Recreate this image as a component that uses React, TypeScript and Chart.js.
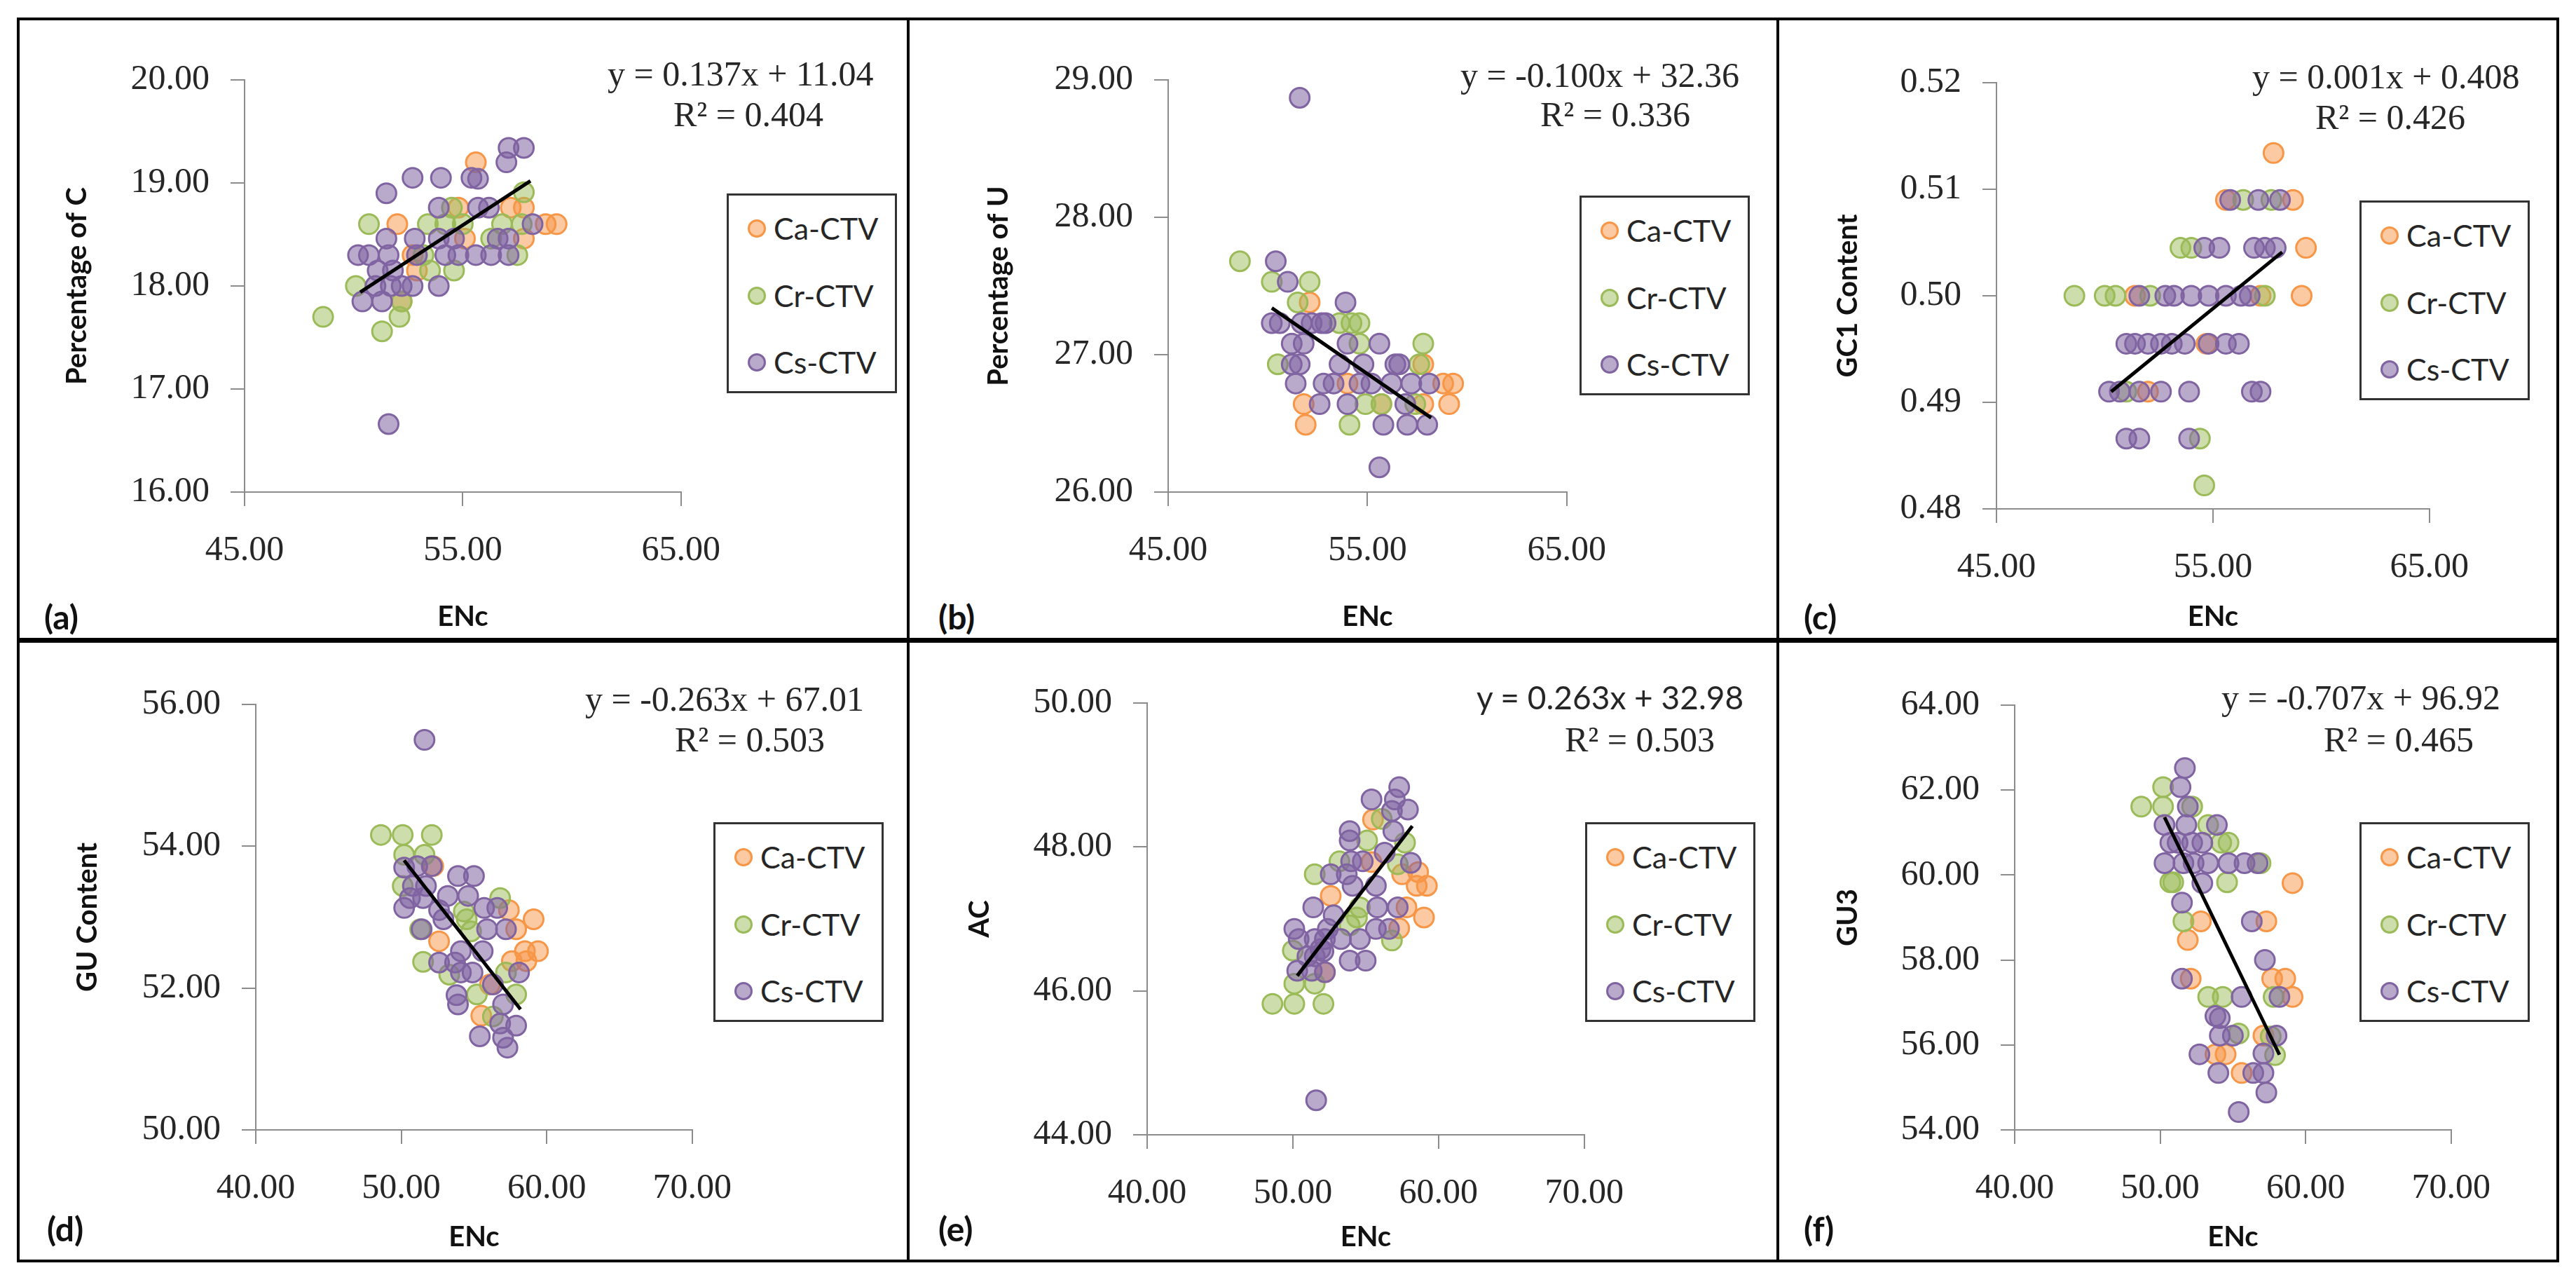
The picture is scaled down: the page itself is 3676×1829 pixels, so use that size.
import React, { useEffect, useRef } from "react";
import { Chart, registerables } from "chart.js";

Chart.register(...registerables);

type Pt = [number, number];
type Pt3 = [number, number, number];

const seriesNames = ["Ca-CTV", "Cr-CTV", "Cs-CTV"];
const panelTags = ["(a)", "(b)", "(c)", "(d)", "(e)", "(f)"];
const yTitles = ["Percentage of C", "Percentage of U", "GC1 Content", "GU Content", "AC", "GU3"];
const xTitle = "ENc";
const equations = [
  "y = 0.137x + 11.04",
  "y = -0.100x + 32.36",
  "y = 0.001x + 0.408",
  "y = -0.263x + 67.01",
  "y = 0.263x + 32.98",
  "y = -0.707x + 96.92",
];
const r2Labels = ["R² = 0.404", "R² = 0.336", "R² = 0.426", "R² = 0.503", "R² = 0.503", "R² = 0.465"];

// axis ranges: [min, max, step]
const xRanges: Pt3[] = [
  [45, 65, 10], [45, 65, 10], [45, 65, 10],
  [40, 70, 10], [40, 70, 10], [40, 70, 10],
];
const yRanges: Pt3[] = [
  [16, 20, 1], [26, 29, 1], [0.48, 0.52, 0.01],
  [50, 56, 2], [44, 50, 2], [54, 64, 2],
];

// (a) Percentage of C vs ENc
const caA: Pt[] = [[55.6,19.2],[52.0,18.6],[54.8,18.76],[57.2,18.76],[57.8,18.76],[58.8,18.6],[59.3,18.6],[57.8,18.46],[55.1,18.46],[52.2,17.85],[52.9,18.15],[52.7,18.3]];
const crA: Pt[] = [[48.6,17.7],[51.3,17.56],[52.1,17.7],[50.1,18.0],[50.7,18.6],[53.4,18.6],[54.2,18.6],[55.0,18.6],[56.8,18.6],[57.7,18.6],[54.5,18.76],[57.8,18.91],[53.5,18.15],[54.6,18.15],[57.5,18.3],[56.3,18.46],[52.2,17.85],[53.2,18.3]];
const csA: Pt[] = [[51.5,18.9],[52.7,19.05],[54.0,19.05],[55.4,19.05],[55.7,19.04],[57.0,19.2],[57.1,19.34],[57.8,19.34],[53.9,18.76],[55.7,18.76],[56.2,18.76],[51.5,18.46],[52.8,18.46],[53.9,18.46],[54.6,18.46],[56.6,18.46],[57.1,18.46],[58.2,18.6],[50.2,18.3],[50.7,18.3],[51.6,18.3],[52.9,18.3],[54.2,18.3],[54.8,18.3],[55.6,18.3],[56.3,18.3],[57.1,18.3],[51.1,18.15],[51.8,18.15],[51.0,18.0],[51.7,18.0],[52.2,18.0],[52.7,18.0],[53.9,18.0],[50.4,17.85],[51.3,17.85],[51.6,16.66]];

// (b) Percentage of U vs ENc
const caB: Pt[] = [[52.1,27.38],[51.8,26.64],[51.9,26.49],[55.7,26.64],[57.8,26.93],[57.8,26.64],[59.1,26.64],[58.8,26.79],[59.3,26.79],[54.0,26.79]];
const crB: Pt[] = [[48.6,27.68],[50.2,27.53],[52.1,27.53],[51.5,27.38],[54.2,27.23],[54.6,27.23],[53.6,27.23],[54.6,27.08],[57.8,27.08],[50.5,26.93],[57.6,26.93],[54.9,26.64],[55.7,26.64],[54.1,26.49],[57.4,26.64]];
const csB: Pt[] = [[51.6,28.87],[50.4,27.68],[51.0,27.53],[53.9,27.38],[50.2,27.23],[50.6,27.23],[51.7,27.23],[52.2,27.23],[52.7,27.23],[52.9,27.23],[51.2,27.08],[51.8,27.08],[54.0,27.08],[55.6,27.08],[51.2,26.93],[51.6,26.93],[53.6,26.93],[54.8,26.93],[56.4,26.93],[56.6,26.93],[51.4,26.79],[52.8,26.79],[53.3,26.79],[54.6,26.79],[55.2,26.79],[56.2,26.79],[57.2,26.79],[58.1,26.79],[52.6,26.64],[54.0,26.64],[56.9,26.64],[55.8,26.49],[57.0,26.49],[58.0,26.49],[55.6,26.18]];

// (c) GC1 content vs ENc
const caC: Pt[] = [[57.8,0.5134],[55.6,0.509],[58.7,0.509],[59.3,0.5045],[59.1,0.5],[51.4,0.5],[52.0,0.491],[54.7,0.4955],[57.2,0.5]];
const crC: Pt[] = [[48.6,0.5],[50.0,0.5],[50.5,0.5],[52.1,0.5],[57.4,0.5],[53.5,0.5045],[54.0,0.5045],[56.4,0.509],[57.7,0.509],[54.4,0.4866],[54.6,0.4822],[51.0,0.491]];
const csC: Pt[] = [[55.8,0.509],[57.1,0.509],[58.1,0.509],[54.6,0.5045],[55.3,0.5045],[56.9,0.5045],[57.4,0.5045],[57.9,0.5045],[51.6,0.5],[52.8,0.5],[53.2,0.5],[54.0,0.5],[54.8,0.5],[55.6,0.5],[56.3,0.5],[56.7,0.5],[51.0,0.4955],[51.4,0.4955],[52.0,0.4955],[52.6,0.4955],[53.1,0.4955],[53.7,0.4955],[54.8,0.4955],[55.6,0.4955],[56.2,0.4955],[50.2,0.491],[50.7,0.491],[51.6,0.491],[52.6,0.491],[53.9,0.491],[56.8,0.491],[57.2,0.491],[51.0,0.4866],[51.6,0.4866],[53.9,0.4866]];

// (d) GU content vs ENc
const caD: Pt[] = [[52.2,53.72],[57.4,53.1],[57.9,52.83],[59.1,52.97],[52.6,52.66],[58.5,52.52],[59.4,52.52],[57.6,52.38],[58.6,52.38],[55.5,51.61],[56.1,52.05]];
const crD: Pt[] = [[48.6,54.16],[50.1,54.16],[52.1,54.16],[50.2,53.88],[51.6,53.88],[50.1,53.44],[51.3,52.83],[51.5,52.37],[53.3,52.19],[54.3,53.08],[54.5,52.97],[56.8,53.27],[54.8,52.8],[55.2,51.91],[57.9,51.91],[56.3,51.6],[57.2,52.22]];
const csD: Pt[] = [[51.6,55.5],[50.2,53.7],[51.1,53.72],[52.1,53.72],[50.8,53.44],[51.7,53.44],[50.6,53.27],[51.5,53.27],[50.2,53.13],[53.9,53.58],[55.0,53.58],[53.2,53.3],[54.6,53.3],[52.6,53.1],[55.7,53.13],[56.6,53.13],[52.9,52.97],[55.9,52.83],[57.2,52.83],[51.4,52.83],[54.1,52.52],[55.6,52.52],[52.6,52.36],[53.7,52.36],[54.1,52.22],[54.9,52.22],[58.1,52.22],[56.3,52.05],[53.8,51.9],[53.9,51.77],[57.0,51.77],[56.8,51.5],[57.9,51.47],[57.0,51.3],[55.4,51.32],[57.3,51.16]];

// (e) AC vs ENc
const caE: Pt[] = [[55.5,48.38],[52.6,47.32],[57.5,47.62],[58.6,47.65],[58.5,47.46],[59.2,47.46],[57.8,47.16],[59.0,47.02],[57.3,46.87],[52.2,46.26],[55.4,47.79]];
const crE: Pt[] = [[48.6,45.82],[50.1,45.82],[52.1,45.82],[50.1,46.1],[51.5,46.1],[50.0,46.56],[51.5,47.62],[53.2,47.8],[55.1,48.09],[56.1,48.39],[57.7,48.06],[57.2,47.76],[54.6,47.16],[54.4,47.02],[56.8,46.7],[53.9,46.91]];
const csE: Pt[] = [[57.3,48.83],[55.4,48.66],[57.0,48.66],[57.9,48.52],[56.8,48.5],[53.9,48.22],[53.9,48.09],[56.9,48.22],[56.3,47.92],[58.1,47.78],[54.0,47.8],[54.8,47.8],[52.6,47.62],[53.7,47.62],[54.1,47.46],[55.7,47.46],[51.4,47.16],[55.8,47.16],[57.2,47.16],[52.8,47.05],[52.4,46.86],[53.3,46.72],[54.6,46.72],[55.7,46.86],[56.6,46.86],[50.1,46.86],[50.4,46.72],[51.5,46.72],[52.2,46.72],[51.9,46.58],[51.0,46.48],[51.5,46.48],[52.1,46.55],[53.9,46.42],[55.0,46.42],[50.3,46.28],[51.3,46.28],[52.2,46.26],[51.6,44.48]];

// (f) GU3 vs ENc
const caF: Pt[] = [[59.1,59.81],[52.8,58.91],[57.3,58.91],[51.9,58.47],[52.1,57.56],[57.7,57.56],[58.6,57.56],[59.1,57.13],[57.1,56.22],[53.8,55.78],[54.5,55.78],[55.6,55.34]];
const crF: Pt[] = [[48.7,61.61],[50.2,62.07],[50.2,61.61],[52.2,61.61],[54.2,60.76],[54.7,60.76],[53.3,61.18],[50.7,59.83],[50.9,59.83],[54.6,59.83],[51.6,58.91],[53.3,57.13],[54.3,57.13],[57.8,57.13],[55.4,56.27],[57.6,56.2],[57.9,55.76],[56.9,60.28]];
const csF: Pt[] = [[51.7,62.52],[51.4,62.07],[51.9,61.61],[53.9,61.18],[50.3,61.18],[51.8,61.18],[50.7,60.76],[51.2,60.76],[52.2,60.76],[52.9,60.76],[50.3,60.28],[51.6,60.28],[52.3,60.28],[53.3,60.28],[54.7,60.28],[55.8,60.28],[56.7,60.28],[52.9,59.81],[51.5,59.35],[56.3,58.91],[57.2,58.0],[51.5,57.56],[55.6,57.13],[58.2,57.13],[53.8,56.68],[54.1,56.63],[54.1,56.22],[55.0,56.22],[58.0,56.22],[52.7,55.78],[57.1,55.8],[54.0,55.34],[56.4,55.34],[57.1,55.34],[57.3,54.88],[55.4,54.42]];

// linear trend line end points (x, y)
const trendX: number[][] = [[50.3, 58.1], [50.2, 58.2], [50.3, 58.2], [50.2, 58.2], [50.3, 58.2], [50.3, 58.2]];
const trendY: number[][] = [[17.94, 19.02], [27.34, 26.54], [0.491, 0.5041], [53.8, 51.7], [46.21, 48.29], [61.36, 55.77]];

const series: Pt[][][] = [
  [caA, crA, csA], [caB, crB, csB], [caC, crC, csC],
  [caD, crD, csD], [caE, crE, csE], [caF, crF, csF],
];

const COLORS = [
  { fill: "rgba(247,150,70,0.5)", line: "#F79646" },
  { fill: "rgba(155,187,89,0.5)", line: "#9BBB59" },
  { fill: "rgba(128,100,162,0.55)", line: "#8064A2" },
];
const AXIS = "#8c8c8c";
const TEXT = "#262626";

// page layout (px): plot rect [l, t, r, b], y title centre x, x title centre y, ...
const LAYOUT = [
  { plot: [349, 84, 992, 702], yTitleX: 110, xTitleY: 880, tag: [63, 880], legend: [1037, 276], eq: [[867, 105], [961, 163]] },
  { plot: [1667, 84, 2256, 702], yTitleX: 1425, xTitleY: 880, tag: [1339, 880], legend: [2254, 279], eq: [[2084, 107], [2198, 163]] },
  { plot: [2849, 88, 3487, 726], yTitleX: 2637, xTitleY: 880, tag: [2574, 880], legend: [3367, 286], eq: [[3214, 109], [3304, 167]] },
  { plot: [365, 975, 1008, 1612], yTitleX: 125, xTitleY: 1765, tag: [67, 1753], legend: [1018, 1173], eq: [[835, 997], [963, 1055]] },
  { plot: [1637, 973, 2281, 1619], yTitleX: 1398, xTitleY: 1765, tag: [1339, 1753], legend: [2262, 1173], eq: [[2107, 995], [2233, 1055]] },
  { plot: [2875, 976, 3518, 1612], yTitleX: 2637, xTitleY: 1765, tag: [2574, 1753], legend: [3367, 1173], eq: [[3170, 995], [3316, 1055]] },
];

const PAD_TOP = 30;
const PAD_RIGHT = 70;
const TITLE_HALF = 24;

function Panel({ i }: { i: number }) {
  const ref = useRef<HTMLCanvasElement>(null);
  const L = LAYOUT[i];
  const [pl, pt, pr, pb] = L.plot;
  const left = L.yTitleX - TITLE_HALF;
  const top = pt - PAD_TOP;
  const width = pr + PAD_RIGHT - left;
  const height = L.xTitleY + TITLE_HALF - top;

  useEffect(() => {
    const ctx = ref.current?.getContext("2d");
    if (!ctx) return;
    const [ca, cr, cs] = series[i];
    const pts = (p: Pt[]) => p.map(([x, y]) => ({ x, y }));
    const scatter = (p: Pt[], k: number) => ({
      label: seriesNames[k],
      data: pts(p),
      backgroundColor: COLORS[k].fill,
      borderColor: COLORS[k].line,
      pointRadius: 14,
      pointBorderWidth: 3,
    });
    const [xMin, xMax, xStep] = xRanges[i];
    const [yMin, yMax, yStep] = yRanges[i];
    const tickFont = { family: "'Liberation Serif', serif", size: 50 };
    const titleFont = { family: "Lato, sans-serif", size: 40, weight: "bold" as const };

    const chart = new Chart(ctx, {
      type: "scatter",
      data: {
        datasets: [
          {
            label: "trend",
            data: trendX[i].map((x, k) => ({ x, y: trendY[i][k] })),
            showLine: true,
            borderColor: "#000",
            borderWidth: 5,
            pointRadius: 0,
          } as any,
          scatter(cs, 2),
          scatter(cr, 1),
          scatter(ca, 0),
        ],
      },
      options: {
        responsive: false,
        animation: false,
        layout: { padding: { top: PAD_TOP, right: PAD_RIGHT, left: 0, bottom: 0 } },
        plugins: { legend: { display: false }, tooltip: { enabled: false } },
        scales: {
          x: {
            type: "linear",
            min: xMin,
            max: xMax,
            ticks: { stepSize: xStep, color: TEXT, font: tickFont, padding: 34, maxRotation: 0, callback: (v: any) => Number(v).toFixed(2) },
            grid: { drawOnChartArea: false, tickLength: 20, color: AXIS, lineWidth: 2 },
            border: { color: AXIS, width: 2 },
            title: { display: true, text: xTitle, color: "#111", font: titleFont, padding: 0 },
            afterFit: (s: any) => { s.height = L.xTitleY + TITLE_HALF - pb; },
          },
          y: {
            type: "linear",
            min: yMin,
            max: yMax,
            ticks: { stepSize: yStep, color: TEXT, font: tickFont, padding: 30, callback: (v: any) => Number(v).toFixed(2) },
            grid: { drawOnChartArea: false, tickLength: 20, color: AXIS, lineWidth: 2 },
            border: { color: AXIS, width: 2 },
            title: { display: true, text: yTitles[i], color: "#111", font: titleFont, padding: 0 },
            afterFit: (s: any) => { s.width = pl - left; },
          },
        },
      },
    });
    return () => chart.destroy();
  }, [i]);

  const eqStyle = (k: number): React.CSSProperties => ({
    position: "absolute",
    left: L.eq[k][0],
    top: L.eq[k][1] - 29,
    lineHeight: "58px",
    fontFamily: i === 4 && k === 0 ? "Lato, sans-serif" : "'Liberation Serif', serif",
    fontSize: i === 4 && k === 0 ? 46 : 50,
    color: TEXT,
    whiteSpace: "nowrap",
  });

  return (
    <>
      <canvas
        ref={ref}
        width={width}
        height={height}
        style={{ position: "absolute", left, top, width, height }}
      />
      <div style={eqStyle(0)}>{equations[i]}</div>
      <div style={eqStyle(1)}>{r2Labels[i]}</div>
      <div
        style={{
          position: "absolute",
          left: L.legend[0],
          top: L.legend[1],
          width: 243,
          height: 285,
          boxSizing: "border-box",
          border: "3px solid #333",
          background: "#fff",
        }}
      >
        {seriesNames.map((name, k) => (
          <div key={name} style={{ position: "absolute", left: 0, top: 47 + k * 95.5 - 30, height: 60, width: "100%" }}>
            <div
              style={{
                position: "absolute",
                left: 27,
                top: 17,
                width: 26,
                height: 26,
                boxSizing: "border-box",
                borderRadius: "50%",
                border: `3px solid ${COLORS[k].line}`,
                background: COLORS[k].fill,
              }}
            />
            <div
              style={{
                position: "absolute",
                left: 64,
                top: 0,
                lineHeight: "60px",
                fontFamily: "Lato, sans-serif",
                fontSize: 43,
                color: TEXT,
                whiteSpace: "nowrap",
              }}
            >
              {name}
            </div>
          </div>
        ))}
      </div>
      <div
        style={{
          position: "absolute",
          left: L.tag[0],
          top: L.tag[1] - 30,
          lineHeight: "60px",
          fontFamily: "Lato, sans-serif",
          fontWeight: "bold",
          fontSize: 48,
          color: "#111",
        }}
      >
        {panelTags[i]}
      </div>
    </>
  );
}

const line = (l: number, t: number, w: number, h: number): React.CSSProperties => ({
  position: "absolute",
  left: l,
  top: t,
  width: w,
  height: h,
  background: "#000",
});

export default function App() {
  return (
    <div style={{ position: "absolute", left: 0, top: 0, width: 3676, height: 1829, background: "#fff", overflow: "hidden" }}>
      {LAYOUT.map((_, i) => (
        <Panel key={i} i={i} />
      ))}
      {/* frame and panel separators */}
      <div style={line(24, 25, 3628, 4)} />
      <div style={line(24, 1797, 3628, 4)} />
      <div style={line(24, 25, 4, 1776)} />
      <div style={line(3648, 25, 4, 1776)} />
      <div style={line(24, 910, 3628, 7)} />
      <div style={line(1294, 25, 4, 1776)} />
      <div style={line(2535, 25, 4, 1776)} />
    </div>
  );
}
